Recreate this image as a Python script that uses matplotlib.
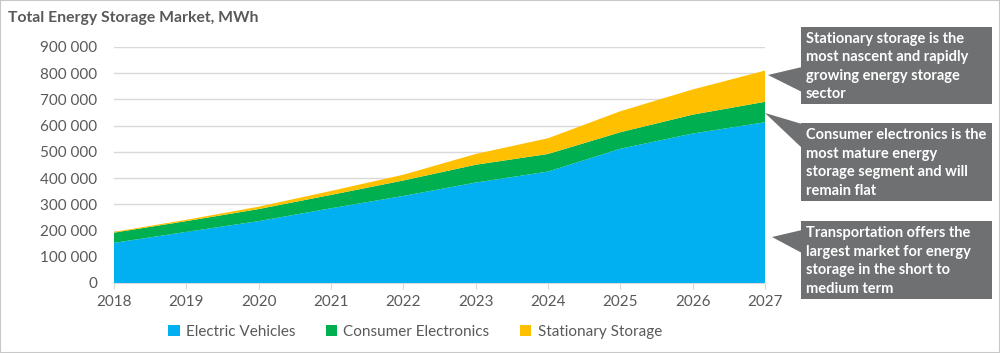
import matplotlib
matplotlib.use("Agg")
import matplotlib.pyplot as plt
from matplotlib.patches import Patch, Polygon, Rectangle
from matplotlib.ticker import FuncFormatter

plt.rcParams["font.family"] = ["Lato", "DejaVu Sans"]

years = [2018, 2019, 2020, 2021, 2022, 2023, 2024, 2025, 2026, 2027]
electric_vehicles = [153000, 195000, 236000, 285000, 332000, 383000, 425000, 512000, 570000, 613000]
consumer_electronics = [39000, 41000, 46000, 51000, 59000, 68000, 67000, 63000, 72000, 78000]
stationary_storage = [3000, 5000, 9000, 15000, 22000, 41000, 60000, 80000, 96000, 119000]

series_names = ["Electric Vehicles", "Consumer Electronics", "Stationary Storage"]
colors = ["#00b0f0", "#00b050", "#ffc000"]

callouts = [
    "Stationary storage is the\nmost nascent and rapidly\ngrowing energy storage\nsector",
    "Consumer electronics is the\nmost mature energy\nstorage segment and will\nremain flat",
    "Transportation offers the\nlargest market for energy\nstorage in the short to\nmedium term",
]

TEXT = "#595959"
GRID = "#d9d9d9"
BOX = "#6e7072"
W, H = 1000, 353


def px(x, y):
    # pixel position (from top-left) to figure fraction
    return x / W, 1 - y / H


fig = plt.figure(figsize=(W / 100, H / 100), dpi=100)
fig.patch.set_facecolor("white")

ax = fig.add_axes([0.114, 1 - 283 / H, (765 - 114) / W, (283 - 47) / H])
ax.stackplot(years, electric_vehicles, consumer_electronics, stationary_storage,
             colors=colors, linewidth=0)
ax.set_xlim(2018, 2027)
ax.set_ylim(0, 900000)
ax.set_xticks(years)
ax.set_yticks(range(0, 900001, 100000))
ax.yaxis.set_major_formatter(FuncFormatter(lambda v, _: f"{int(v):,}".replace(",", " ")))
ax.grid(axis="y", color=GRID, linewidth=1)
ax.set_axisbelow(True)
for s in ["top", "right", "left"]:
    ax.spines[s].set_visible(False)
ax.spines["bottom"].set_color(GRID)
ax.tick_params(axis="y", length=0, pad=12, labelsize=11, labelcolor=TEXT)
ax.tick_params(axis="x", length=4, color=GRID, pad=5, labelsize=11, labelcolor=TEXT)

fig.text(*px(8, 18), "Total Energy Storage Market, MWh", fontsize=11.3,
         fontweight="bold", color=TEXT, va="center", ha="left")

handles = [Patch(facecolor=c, edgecolor="none") for c in colors]
fig.legend(handles, series_names, loc="center", bbox_to_anchor=(0.415, 1 - 332 / H),
           ncol=3, frameon=False, fontsize=11, labelcolor=TEXT, handlelength=0.75,
           handleheight=0.75, handletextpad=0.4, columnspacing=2.0)

# callout boxes with pointer wedges (pixel geometry)
boxes = [(27, 104), (123, 201), (221, 299)]
wedges = [
    [(768, 75), (802, 67), (802, 92)],
    [(765, 113), (802, 124), (802, 148)],
    [(772, 237), (802, 230), (802, 253)],
]
for (top, bottom), wedge, txt in zip(boxes, wedges, callouts):
    x0, y0 = px(801, bottom)
    x1, y1 = px(992, top)
    fig.add_artist(Rectangle((x0, y0), x1 - x0, y1 - y0, transform=fig.transFigure,
                             facecolor=BOX, edgecolor="none"))
    fig.add_artist(Polygon([px(*p) for p in wedge], closed=True, transform=fig.transFigure,
                           facecolor=BOX, edgecolor="none"))
    fig.text(*px(806, (top + bottom) / 2 + 1), txt, color="white", fontsize=10.5,
             fontweight="bold", ha="left", va="center", linespacing=1.42)

fig.add_artist(Rectangle((0, 0), 1, 1, transform=fig.transFigure, fill=False,
                         edgecolor="#c8c8c8", linewidth=1.5))

fig.savefig("out.png", dpi=100)
